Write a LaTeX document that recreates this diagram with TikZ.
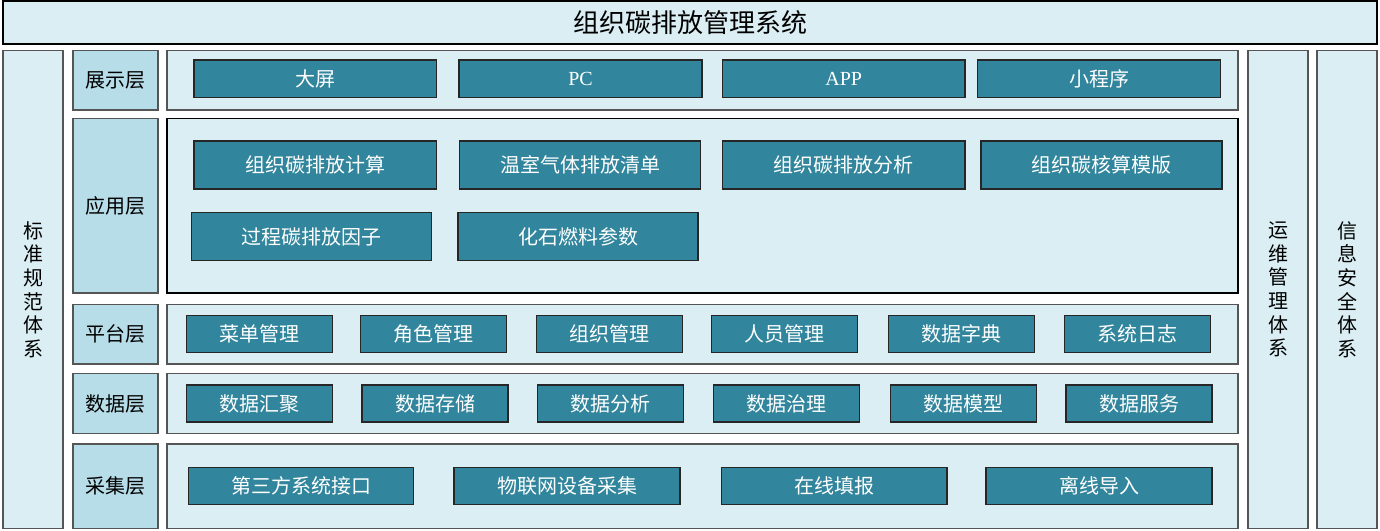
\documentclass[tikz,border=0pt]{standalone}
\usepackage{fontspec}
\setmainfont{Noto Sans CJK SC}
\newfontfamily\latinserif{Liberation Serif}
\definecolor{panelbg}{RGB}{218,238,243}
\definecolor{layerbg}{RGB}{183,221,232}
\definecolor{unitbg}{RGB}{49,133,156}
\definecolor{panelline}{RGB}{85,85,85}

\begin{document}
\begin{tikzpicture}[x=1pt,y=-1pt,
	panel/.style={draw=panelline,line width=1.3pt,fill=panelbg,inner sep=0pt,outer sep=0pt},
	layerbox/.style={panel,fill=layerbg,font=\fontsize{20}{24}\selectfont},
	sidebox/.style={panel,minimum width=60,minimum height=478,align=center,font=\fontsize{20}{23.6}\selectfont},
	unit/.style={draw=black!85,line width=1.1pt,fill=unitbg,text=white,inner sep=0pt,outer sep=0pt,font=\fontsize{20}{24}\selectfont}]
	\useasboundingbox (0,0) rectangle (1380,530);
	% title
	\node[panel,draw=black,minimum width=1374,minimum height=43,font=\fontsize{26}{30}\selectfont] (title) at (690,22.5) {组织碳排放管理系统};
	% side columns
	\node[sidebox] (standard) at (33,289.5) {标\\准\\规\\范\\体\\系};
	\node[sidebox] (ops) at (1278,289.5) {运\\维\\管\\理\\体\\系};
	\node[sidebox] (security) at (1347,289.5) {信\\息\\安\\全\\体\\系};
	% layer labels
	\node[layerbox,minimum width=85,minimum height=59.5] (lshow) at (115.5,80.25) {展示层};
	\node[layerbox,minimum width=85,minimum height=174.5] (lapp) at (115.5,205.75) {应用层};
	\node[layerbox,minimum width=85,minimum height=59.5] (lplat) at (115.5,334.25) {平台层};
	\node[layerbox,minimum width=85,minimum height=60] (ldata) at (115.5,403.5) {数据层};
	\node[layerbox,minimum width=85,minimum height=84.5] (lcoll) at (115.5,486.25) {采集层};
	% layer contents
	\node[panel,minimum width=1071,minimum height=59.5] (pshow) at (702.5,80.25) {};
	\node[panel,draw=black,minimum width=1071,minimum height=174.5] (papp) at (702.5,205.75) {};
	\node[panel,minimum width=1071,minimum height=59.5] (pplat) at (702.5,334.25) {};
	\node[panel,minimum width=1071,minimum height=60] (pdata) at (702.5,403.5) {};
	\node[panel,minimum width=1071,minimum height=84.5] (pcoll) at (702.5,486.25) {};
	% 展示层
	\node[unit,minimum width=242.5,minimum height=37.5] (screen) at (315.25,78.75) {大屏};
	\node[unit,minimum width=243,minimum height=37.5,font=\latinserif\fontsize{20}{24}\selectfont] (pc) at (580.5,78.75) {PC};
	\node[unit,minimum width=242.5,minimum height=37.5,font=\latinserif\fontsize{20}{24}\selectfont] (app) at (843.75,78.75) {APP};
	\node[unit,minimum width=243,minimum height=37.5] (mini) at (1099,78.75) {小程序};
	% 应用层
	\node[unit,minimum width=242.5,minimum height=48] (calc) at (315.25,165) {组织碳排放计算};
	\node[unit,minimum width=241.5,minimum height=48] (ghg) at (580,165) {温室气体排放清单};
	\node[unit,minimum width=242.5,minimum height=48] (anal) at (843.75,165) {组织碳排放分析};
	\node[unit,minimum width=241,minimum height=48] (tmpl) at (1101.5,165) {组织碳核算模版};
	\node[unit,minimum width=240.4,minimum height=48] (factor) at (311.6,236.8) {过程碳排放因子};
	\node[unit,minimum width=240,minimum height=48] (fuel) at (578,236.8) {化石燃料参数};
	% 平台层
	\node[unit,minimum width=146,minimum height=37] (menu) at (259.7,334.2) {菜单管理};
	\node[unit,minimum width=146,minimum height=37] (role) at (433.5,334.2) {角色管理};
	\node[unit,minimum width=146,minimum height=37] (org) at (609.2,334.2) {组织管理};
	\node[unit,minimum width=146,minimum height=37] (staff) at (784.7,334.2) {人员管理};
	\node[unit,minimum width=146,minimum height=37] (dict) at (961.8,334.2) {数据字典};
	\node[unit,minimum width=146,minimum height=37] (log) at (1137.2,334.2) {系统日志};
	% 数据层
	\node[unit,minimum width=146,minimum height=37] (gather) at (259.7,403.5) {数据汇聚};
	\node[unit,minimum width=146,minimum height=37] (store) at (435,403.5) {数据存储};
	\node[unit,minimum width=146,minimum height=37] (danal) at (610.8,403.5) {数据分析};
	\node[unit,minimum width=146,minimum height=37] (govern) at (786.2,403.5) {数据治理};
	\node[unit,minimum width=146,minimum height=37] (model) at (963.6,403.5) {数据模型};
	\node[unit,minimum width=146,minimum height=37] (serv) at (1139,403.5) {数据服务};
	% 采集层
	\node[unit,minimum width=225.4,minimum height=37] (api) at (301,486.1) {第三方系统接口};
	\node[unit,minimum width=226,minimum height=37] (iot) at (567,486.1) {物联网设备采集};
	\node[unit,minimum width=225.4,minimum height=37] (online) at (834.3,486.1) {在线填报};
	\node[unit,minimum width=226,minimum height=37] (offline) at (1099,486.1) {离线导入};
\end{tikzpicture}
\end{document}
